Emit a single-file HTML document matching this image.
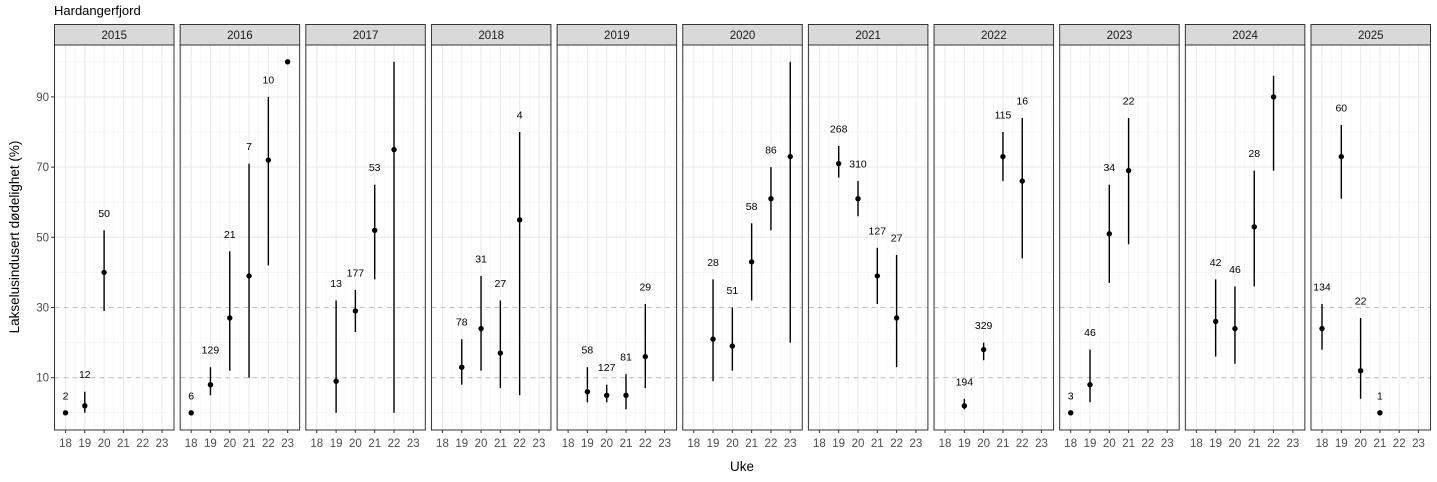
<!DOCTYPE html>
<html><head><meta charset="utf-8"><style>
html,body{margin:0;padding:0;background:#fff}
svg{display:block;font-family:"Liberation Sans",Arial,sans-serif}
.lab{font-size:10.5px;fill:#000;text-anchor:middle}
.tk{font-size:11.5px;fill:#4d4d4d;text-anchor:middle}
.st{font-size:11.5px;fill:#1a1a1a;text-anchor:middle}
.bar{stroke:#000;stroke-width:1.4}
</style></head><body>
<svg width="1437" height="482" viewBox="0 0 1437 482" xmlns="http://www.w3.org/2000/svg">
<defs>
<g id="bg">
<rect x="0" y="45" width="119.5" height="385" fill="#fff"/>
<g stroke="#f2f2f2" stroke-width="0.6">
<line x1="1.35" y1="45" x2="1.35" y2="430"/><line x1="20.65" y1="45" x2="20.65" y2="430"/><line x1="39.95" y1="45" x2="39.95" y2="430"/><line x1="59.25" y1="45" x2="59.25" y2="430"/><line x1="78.55" y1="45" x2="78.55" y2="430"/><line x1="97.85" y1="45" x2="97.85" y2="430"/><line x1="117.15" y1="45" x2="117.15" y2="430"/>
<line x1="0" y1="412.8" x2="119.5" y2="412.8"/><line x1="0" y1="342.6" x2="119.5" y2="342.6"/><line x1="0" y1="272.4" x2="119.5" y2="272.4"/><line x1="0" y1="202.2" x2="119.5" y2="202.2"/><line x1="0" y1="132" x2="119.5" y2="132"/><line x1="0" y1="61.8" x2="119.5" y2="61.8"/>
</g>
<g stroke="#ebebeb" stroke-width="1.1">
<line x1="11" y1="45" x2="11" y2="430"/><line x1="30.3" y1="45" x2="30.3" y2="430"/><line x1="49.6" y1="45" x2="49.6" y2="430"/><line x1="68.9" y1="45" x2="68.9" y2="430"/><line x1="88.2" y1="45" x2="88.2" y2="430"/><line x1="107.5" y1="45" x2="107.5" y2="430"/>
<line x1="0" y1="237.3" x2="119.5" y2="237.3"/><line x1="0" y1="167.1" x2="119.5" y2="167.1"/><line x1="0" y1="96.9" x2="119.5" y2="96.9"/>
</g>
<g stroke="#c4c4c4" stroke-width="1.1" stroke-dasharray="5,4">
<line x1="0" y1="377.7" x2="119.5" y2="377.7"/><line x1="0" y1="307.5" x2="119.5" y2="307.5"/>
</g>
<rect x="0" y="24.5" width="119.5" height="20.5" fill="#d9d9d9" stroke="#333" stroke-width="1"/>
<rect x="0" y="45" width="119.5" height="385" fill="none" stroke="#333" stroke-width="1"/>
<g stroke="#333" stroke-width="1"><line x1="11" y1="430" x2="11" y2="433"/><line x1="30.3" y1="430" x2="30.3" y2="433"/><line x1="49.6" y1="430" x2="49.6" y2="433"/><line x1="68.9" y1="430" x2="68.9" y2="433"/><line x1="88.2" y1="430" x2="88.2" y2="433"/><line x1="107.5" y1="430" x2="107.5" y2="433"/></g>
</g>
</defs>

<text x="54" y="15" font-size="13" fill="#000">Hardangerfjord</text>
<text x="742" y="471" font-size="13.5" fill="#000" text-anchor="middle">Uke</text>
<text transform="translate(19,237) rotate(-90)" font-size="13.5" fill="#000" text-anchor="middle">Lakselusindusert dødelighet (%)</text>
<g font-size="11.5" fill="#4d4d4d" text-anchor="end">
<text x="49" y="381.7">10</text><text x="49" y="311.5">30</text><text x="49" y="241.3">50</text><text x="49" y="171.1">70</text><text x="49" y="100.9">90</text>
</g>
<g stroke="#333"><line x1="51" y1="377.7" x2="54.5" y2="377.7"/><line x1="51" y1="307.5" x2="54.5" y2="307.5"/><line x1="51" y1="237.3" x2="54.5" y2="237.3"/><line x1="51" y1="167.1" x2="54.5" y2="167.1"/><line x1="51" y1="96.9" x2="54.5" y2="96.9"/></g>

<!-- 2015 -->
<g transform="translate(54.5,0)"><use href="#bg"/><text class="st" x="59.75" y="39">2015</text>
<g class="tk"><text x="11" y="447">18</text><text x="30.3" y="447">19</text><text x="49.6" y="447">20</text><text x="68.9" y="447">21</text><text x="88.2" y="447">22</text><text x="107.5" y="447">23</text></g>
<line class="bar" x1="30.3" y1="412.8" x2="30.3" y2="391.7"/><line class="bar" x1="49.6" y1="311" x2="49.6" y2="230.3"/>
<circle cx="11" cy="412.8" r="2.7"/><circle cx="30.3" cy="405.8" r="2.7"/><circle cx="49.6" cy="272.4" r="2.7"/>
<text class="lab" x="11" y="399.3">2</text><text class="lab" x="30.3" y="378.2">12</text><text class="lab" x="49.6" y="216.8">50</text></g>

<!-- 2016 -->
<g transform="translate(180.15,0)"><use href="#bg"/><text class="st" x="59.75" y="39">2016</text>
<g class="tk"><text x="11" y="447">18</text><text x="30.3" y="447">19</text><text x="49.6" y="447">20</text><text x="68.9" y="447">21</text><text x="88.2" y="447">22</text><text x="107.5" y="447">23</text></g>
<line class="bar" x1="30.3" y1="395.3" x2="30.3" y2="367.2"/><line class="bar" x1="49.6" y1="370.7" x2="49.6" y2="251.3"/><line class="bar" x1="68.9" y1="377.7" x2="68.9" y2="163.6"/><line class="bar" x1="88.2" y1="265.4" x2="88.2" y2="96.9"/>
<circle cx="11" cy="412.8" r="2.7"/><circle cx="30.3" cy="384.7" r="2.7"/><circle cx="49.6" cy="318" r="2.7"/><circle cx="68.9" cy="275.9" r="2.7"/><circle cx="88.2" cy="160.1" r="2.7"/><circle cx="107.5" cy="61.8" r="2.7"/>
<text class="lab" x="11" y="399.3">6</text><text class="lab" x="30.3" y="353.7">129</text><text class="lab" x="49.6" y="237.8">21</text><text class="lab" x="68.9" y="150.1">7</text><text class="lab" x="88.2" y="83.4">10</text></g>

<!-- 2017 -->
<g transform="translate(305.8,0)"><use href="#bg"/><text class="st" x="59.75" y="39">2017</text>
<g class="tk"><text x="11" y="447">18</text><text x="30.3" y="447">19</text><text x="49.6" y="447">20</text><text x="68.9" y="447">21</text><text x="88.2" y="447">22</text><text x="107.5" y="447">23</text></g>
<line class="bar" x1="30.3" y1="412.8" x2="30.3" y2="300.5"/><line class="bar" x1="49.6" y1="332.1" x2="49.6" y2="290"/><line class="bar" x1="68.9" y1="279.4" x2="68.9" y2="184.7"/><line class="bar" x1="88.2" y1="412.8" x2="88.2" y2="61.8"/>
<circle cx="30.3" cy="381.2" r="2.7"/><circle cx="49.6" cy="311" r="2.7"/><circle cx="68.9" cy="230.3" r="2.7"/><circle cx="88.2" cy="149.6" r="2.7"/>
<text class="lab" x="30.3" y="287">13</text><text class="lab" x="49.6" y="276.5">177</text><text class="lab" x="68.9" y="171.2">53</text></g>

<!-- 2018 -->
<g transform="translate(431.45,0)"><use href="#bg"/><text class="st" x="59.75" y="39">2018</text>
<g class="tk"><text x="11" y="447">18</text><text x="30.3" y="447">19</text><text x="49.6" y="447">20</text><text x="68.9" y="447">21</text><text x="88.2" y="447">22</text><text x="107.5" y="447">23</text></g>
<line class="bar" x1="30.3" y1="384.7" x2="30.3" y2="339.1"/><line class="bar" x1="49.6" y1="370.7" x2="49.6" y2="275.9"/><line class="bar" x1="68.9" y1="388.2" x2="68.9" y2="300.5"/><line class="bar" x1="88.2" y1="395.3" x2="88.2" y2="132"/>
<circle cx="30.3" cy="367.2" r="2.7"/><circle cx="49.6" cy="328.6" r="2.7"/><circle cx="68.9" cy="353.1" r="2.7"/><circle cx="88.2" cy="219.8" r="2.7"/>
<text class="lab" x="30.3" y="325.6">78</text><text class="lab" x="49.6" y="262.4">31</text><text class="lab" x="68.9" y="287">27</text><text class="lab" x="88.2" y="118.5">4</text></g>

<!-- 2019 -->
<g transform="translate(557.1,0)"><use href="#bg"/><text class="st" x="59.75" y="39">2019</text>
<g class="tk"><text x="11" y="447">18</text><text x="30.3" y="447">19</text><text x="49.6" y="447">20</text><text x="68.9" y="447">21</text><text x="88.2" y="447">22</text><text x="107.5" y="447">23</text></g>
<line class="bar" x1="30.3" y1="402.3" x2="30.3" y2="367.2"/><line class="bar" x1="49.6" y1="402.3" x2="49.6" y2="384.7"/><line class="bar" x1="68.9" y1="409.3" x2="68.9" y2="374.2"/><line class="bar" x1="88.2" y1="388.2" x2="88.2" y2="304"/>
<circle cx="30.3" cy="391.7" r="2.7"/><circle cx="49.6" cy="395.3" r="2.7"/><circle cx="68.9" cy="395.3" r="2.7"/><circle cx="88.2" cy="356.6" r="2.7"/>
<text class="lab" x="30.3" y="353.7">58</text><text class="lab" x="49.6" y="371.2">127</text><text class="lab" x="68.9" y="360.7">81</text><text class="lab" x="88.2" y="290.5">29</text></g>

<!-- 2020 -->
<g transform="translate(682.75,0)"><use href="#bg"/><text class="st" x="59.75" y="39">2020</text>
<g class="tk"><text x="11" y="447">18</text><text x="30.3" y="447">19</text><text x="49.6" y="447">20</text><text x="68.9" y="447">21</text><text x="88.2" y="447">22</text><text x="107.5" y="447">23</text></g>
<line class="bar" x1="30.3" y1="381.2" x2="30.3" y2="279.4"/><line class="bar" x1="49.6" y1="370.7" x2="49.6" y2="307.5"/><line class="bar" x1="68.9" y1="300.5" x2="68.9" y2="223.3"/><line class="bar" x1="88.2" y1="230.3" x2="88.2" y2="167.1"/><line class="bar" x1="107.5" y1="342.6" x2="107.5" y2="61.8"/>
<circle cx="30.3" cy="339.1" r="2.7"/><circle cx="49.6" cy="346.1" r="2.7"/><circle cx="68.9" cy="261.9" r="2.7"/><circle cx="88.2" cy="198.7" r="2.7"/><circle cx="107.5" cy="156.6" r="2.7"/>
<text class="lab" x="30.3" y="265.9">28</text><text class="lab" x="49.6" y="294">51</text><text class="lab" x="68.9" y="209.8">58</text><text class="lab" x="88.2" y="153.6">86</text></g>

<!-- 2021 -->
<g transform="translate(808.4,0)"><use href="#bg"/><text class="st" x="59.75" y="39">2021</text>
<g class="tk"><text x="11" y="447">18</text><text x="30.3" y="447">19</text><text x="49.6" y="447">20</text><text x="68.9" y="447">21</text><text x="88.2" y="447">22</text><text x="107.5" y="447">23</text></g>
<line class="bar" x1="30.3" y1="177.6" x2="30.3" y2="146"/><line class="bar" x1="49.6" y1="216.2" x2="49.6" y2="181.1"/><line class="bar" x1="68.9" y1="304" x2="68.9" y2="247.8"/><line class="bar" x1="88.2" y1="367.2" x2="88.2" y2="254.9"/>
<circle cx="30.3" cy="163.6" r="2.7"/><circle cx="49.6" cy="198.7" r="2.7"/><circle cx="68.9" cy="275.9" r="2.7"/><circle cx="88.2" cy="318" r="2.7"/>
<text class="lab" x="30.3" y="132.5">268</text><text class="lab" x="49.6" y="167.6">310</text><text class="lab" x="68.9" y="234.3">127</text><text class="lab" x="88.2" y="241.4">27</text></g>

<!-- 2022 -->
<g transform="translate(934.05,0)"><use href="#bg"/><text class="st" x="59.75" y="39">2022</text>
<g class="tk"><text x="11" y="447">18</text><text x="30.3" y="447">19</text><text x="49.6" y="447">20</text><text x="68.9" y="447">21</text><text x="88.2" y="447">22</text><text x="107.5" y="447">23</text></g>
<line class="bar" x1="30.3" y1="409.3" x2="30.3" y2="398.8"/><line class="bar" x1="49.6" y1="360.2" x2="49.6" y2="342.6"/><line class="bar" x1="68.9" y1="181.1" x2="68.9" y2="132"/><line class="bar" x1="88.2" y1="258.4" x2="88.2" y2="118"/>
<circle cx="30.3" cy="405.8" r="2.7"/><circle cx="49.6" cy="349.6" r="2.7"/><circle cx="68.9" cy="156.6" r="2.7"/><circle cx="88.2" cy="181.1" r="2.7"/>
<text class="lab" x="30.3" y="385.3">194</text><text class="lab" x="49.6" y="329.1">329</text><text class="lab" x="68.9" y="118.5">115</text><text class="lab" x="88.2" y="104.4">16</text></g>

<!-- 2023 -->
<g transform="translate(1059.7,0)"><use href="#bg"/><text class="st" x="59.75" y="39">2023</text>
<g class="tk"><text x="11" y="447">18</text><text x="30.3" y="447">19</text><text x="49.6" y="447">20</text><text x="68.9" y="447">21</text><text x="88.2" y="447">22</text><text x="107.5" y="447">23</text></g>
<line class="bar" x1="30.3" y1="402.3" x2="30.3" y2="349.6"/><line class="bar" x1="49.6" y1="282.9" x2="49.6" y2="184.7"/><line class="bar" x1="68.9" y1="244.3" x2="68.9" y2="118"/>
<circle cx="11" cy="412.8" r="2.7"/><circle cx="30.3" cy="384.7" r="2.7"/><circle cx="49.6" cy="233.8" r="2.7"/><circle cx="68.9" cy="170.6" r="2.7"/>
<text class="lab" x="11" y="399.3">3</text><text class="lab" x="30.3" y="336.1">46</text><text class="lab" x="49.6" y="171.2">34</text><text class="lab" x="68.9" y="104.5">22</text></g>

<!-- 2024 -->
<g transform="translate(1185.35,0)"><use href="#bg"/><text class="st" x="59.75" y="39">2024</text>
<g class="tk"><text x="11" y="447">18</text><text x="30.3" y="447">19</text><text x="49.6" y="447">20</text><text x="68.9" y="447">21</text><text x="88.2" y="447">22</text><text x="107.5" y="447">23</text></g>
<line class="bar" x1="30.3" y1="356.6" x2="30.3" y2="279.4"/><line class="bar" x1="49.6" y1="363.7" x2="49.6" y2="286.4"/><line class="bar" x1="68.9" y1="286.4" x2="68.9" y2="170.6"/><line class="bar" x1="88.2" y1="170.6" x2="88.2" y2="75.8"/>
<circle cx="30.3" cy="321.5" r="2.7"/><circle cx="49.6" cy="328.6" r="2.7"/><circle cx="68.9" cy="226.8" r="2.7"/><circle cx="88.2" cy="96.9" r="2.7"/>
<text class="lab" x="30.3" y="265.9">42</text><text class="lab" x="49.6" y="272.9">46</text><text class="lab" x="68.9" y="157.1">28</text></g>

<!-- 2025 -->
<g transform="translate(1311,0)"><use href="#bg"/><text class="st" x="59.75" y="39">2025</text>
<g class="tk"><text x="11" y="447">18</text><text x="30.3" y="447">19</text><text x="49.6" y="447">20</text><text x="68.9" y="447">21</text><text x="88.2" y="447">22</text><text x="107.5" y="447">23</text></g>
<line class="bar" x1="11" y1="349.6" x2="11" y2="304"/><line class="bar" x1="30.3" y1="198.7" x2="30.3" y2="125"/><line class="bar" x1="49.6" y1="398.8" x2="49.6" y2="318"/>
<circle cx="11" cy="328.6" r="2.7"/><circle cx="30.3" cy="156.6" r="2.7"/><circle cx="49.6" cy="370.7" r="2.7"/><circle cx="68.9" cy="412.8" r="2.7"/>
<text class="lab" x="11" y="290.5">134</text><text class="lab" x="30.3" y="111.5">60</text><text class="lab" x="49.6" y="304.5">22</text><text class="lab" x="68.9" y="399.3">1</text></g>
</svg>
</body></html>
